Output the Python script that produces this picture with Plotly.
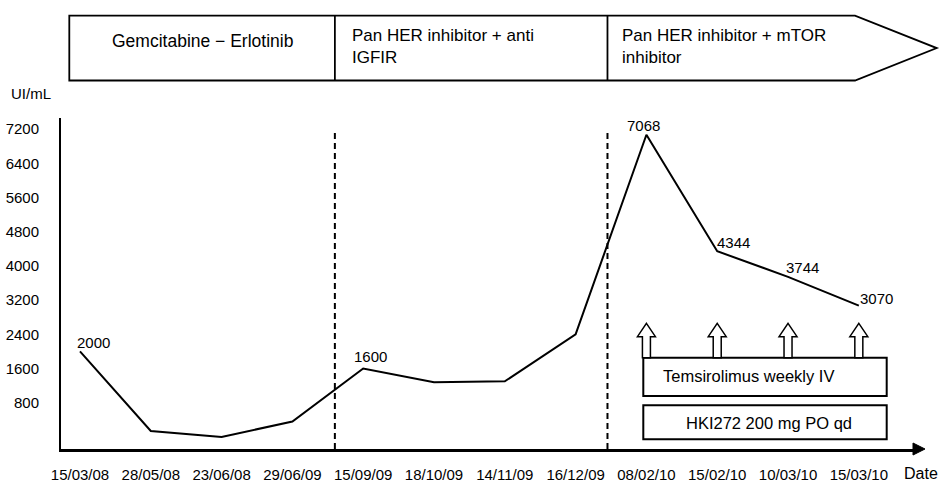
import plotly.graph_objects as go

# ---------------- data ----------------
dates = ["15/03/08", "28/05/08", "23/06/08", "29/06/09", "15/09/09", "18/10/09",
         "14/11/09", "16/12/09", "08/02/10", "15/02/10", "10/03/10", "15/03/10"]
ca199 = [2000, 140, 0, 360, 1600, 1280, 1300, 2400, 7068, 4344, 3744, 3070]
labelled_dates = ["15/03/08", "15/09/09", "08/02/10", "15/02/10", "10/03/10", "15/03/10"]
y_ticks = [800, 1600, 2400, 3200, 4000, 4800, 5600, 6400, 7200]
phases = ["Gemcitabine − Erlotinib", "Pan HER inhibitor + anti<br>IGFIR",
          "Pan HER inhibitor + mTOR<br>inhibitor"]
phase_breaks = [3.6, 7.45]          # category positions of treatment changes
temsirolimus_dates = ["08/02/10", "15/02/10", "10/03/10", "15/03/10"]
box_texts = ["Temsirolimus weekly IV", "HKI272 200 mg PO qd"]

# ---------------- layout constants ----------------
W, H = 943, 483
ML, MR, MT, MB = 61, 30, 118, 34
PW, PH = W - ML - MR, H - MT - MB
XMIN, XMAX = -0.268, 11.765
YMIN, YMAX = -283, 7460
FONT = "Arial, Liberation Sans, Helvetica, sans-serif"


def px_x(p):   # pixel -> paper x
    return (p - ML) / PW


def px_y(p):   # pixel -> paper y
    return (H - MB - p) / PH


def dx_paper(xd):
    return (xd - XMIN) / (XMAX - XMIN)


def px_dx(p):  # pixel -> data x
    return XMIN + (p - ML) / PW * (XMAX - XMIN)


fig = go.Figure()
fig.add_trace(go.Scatter(x=list(range(len(dates))), y=ca199, mode="lines",
                         line=dict(color="black", width=2), hoverinfo="skip",
                         showlegend=False))

shapes = []
annotations = []

# dashed phase lines
for b in phase_breaks:
    shapes.append(dict(type="line", xref="x", yref="paper", x0=b, x1=b,
                       y0=0, y1=px_y(131.5),
                       line=dict(color="black", width=2, dash="6px,4px")))

# header arrow with phases
L, R, T, B, TIP = px_x(69.3), px_x(855), px_y(15.7), px_y(80.5), px_x(936.7)
MID = (T + B) / 2
shapes.append(dict(type="path", xref="paper", yref="paper",
                   path=f"M{L},{T} L{R},{T} L{TIP},{MID} L{R},{B} L{L},{B} Z",
                   line=dict(color="black", width=1.8), fillcolor="rgba(0,0,0,0)"))
for b in phase_breaks:
    xp = dx_paper(b)
    shapes.append(dict(type="line", xref="paper", yref="paper", x0=xp, x1=xp,
                       y0=B, y1=T, line=dict(color="black", width=1.8)))

annotations.append(dict(text=phases[0], xref="paper", yref="paper",
                        x=(L + dx_paper(phase_breaks[0])) / 2, y=px_y(41),
                        xanchor="center", yanchor="middle", showarrow=False,
                        font=dict(size=17.5, color="black", family=FONT)))
annotations.append(dict(text=phases[1], xref="paper", yref="paper",
                        x=dx_paper(phase_breaks[0]) + 15 / PW, y=px_y(46),
                        xanchor="left", yanchor="middle", align="left", showarrow=False,
                        font=dict(size=17, color="black", family=FONT)))
annotations.append(dict(text=phases[2], xref="paper", yref="paper",
                        x=dx_paper(phase_breaks[1]) + 13 / PW, y=px_y(46.5),
                        xanchor="left", yanchor="middle", align="left", showarrow=False,
                        font=dict(size=17, color="black", family=FONT)))

# x axis arrow head
shapes.append(dict(type="path", xref="paper", yref="paper",
                   path=f"M1,{6 / PH} L{(925 - ML) / PW},0 L1,{-6 / PH} Z",
                   line=dict(color="black", width=1), fillcolor="black"))

# value labels
offsets = {"15/03/08": (14, 9), "15/09/09": (7, 12), "08/02/10": (-3, 9),
           "15/02/10": (16, 9), "10/03/10": (14, 9), "15/03/10": (18, 7)}
for d in labelled_dates:
    i = dates.index(d)
    xs, ys = offsets[d]
    annotations.append(dict(text=str(ca199[i]), x=i, y=ca199[i], xref="x", yref="y",
                            xshift=xs, yshift=ys, showarrow=False,
                            xanchor="center", yanchor="middle",
                            font=dict(size=15, color="black", family=FONT)))

# treatment boxes
bx0, bx1 = px_dx(643.3), px_dx(886.7)
box_rows = [(px_y(357.7), px_y(396)), (px_y(405.3), px_y(439.3))]
for (yt, yb) in box_rows:
    shapes.append(dict(type="rect", xref="x", yref="paper", x0=bx0, x1=bx1,
                       y0=yb, y1=yt, line=dict(color="black", width=2),
                       fillcolor="white"))
annotations.append(dict(text=box_texts[0], xref="x", yref="paper",
                        x=px_dx(748.3), y=px_y(376), showarrow=False,
                        xanchor="center", yanchor="middle",
                        font=dict(size=16.5, color="black", family=FONT)))
annotations.append(dict(text=box_texts[1], xref="x", yref="paper",
                        x=px_dx(769.3), y=px_y(422.5), showarrow=False,
                        xanchor="center", yanchor="middle",
                        font=dict(size=16.5, color="black", family=FONT)))

# hollow arrows (temsirolimus doses)
ux = (XMAX - XMIN) / PW           # data units per pixel
at, ab, abot = px_y(323.3), px_y(336.7), box_rows[0][0]
for d in temsirolimus_dates:
    c = dates.index(d)
    h, s = 9 * ux, 4 * ux
    path = (f"M{c},{at} L{c + h},{ab} L{c + s},{ab} L{c + s},{abot} "
            f"L{c - s},{abot} L{c - s},{ab} L{c - h},{ab} Z")
    shapes.append(dict(type="path", xref="x", yref="paper", path=path,
                       line=dict(color="black", width=1.5), fillcolor="white"))

# axis titles
annotations.append(dict(text="UI/mL", xref="paper", yref="paper", x=px_x(31),
                        y=px_y(93), showarrow=False, xanchor="center", yanchor="middle",
                        font=dict(size=15, color="black", family=FONT)))
annotations.append(dict(text="Date", xref="paper", yref="paper", x=px_x(921),
                        y=px_y(473), showarrow=False, xanchor="center", yanchor="middle",
                        font=dict(size=16, color="black", family=FONT)))

fig.update_layout(
    width=W, height=H, margin=dict(l=ML, r=MR, t=MT, b=MB, pad=0, autoexpand=False),
    plot_bgcolor="white", paper_bgcolor="white",
    shapes=shapes, annotations=annotations, showlegend=False,
    xaxis=dict(range=[XMIN, XMAX], tickvals=list(range(len(dates))), ticktext=dates,
               showgrid=False, zeroline=False, showline=True, linecolor="black",
               linewidth=3, ticks="outside", ticklen=10, tickcolor="rgba(0,0,0,0)",
               tickfont=dict(size=15, color="black", family=FONT), tickangle=0,
               automargin=False),
    yaxis=dict(range=[YMIN, YMAX], tickvals=y_ticks, showgrid=False, zeroline=False,
               showline=True, linecolor="black", linewidth=2, ticks="outside",
               ticklen=17, tickcolor="rgba(0,0,0,0)",
               tickfont=dict(size=15, color="black", family=FONT), automargin=False),
)

fig.write_html("out.html", config={"displayModeBar": False},
               post_script="document.body.style.margin='0px';"
                           "document.body.style.overflow='hidden';")
